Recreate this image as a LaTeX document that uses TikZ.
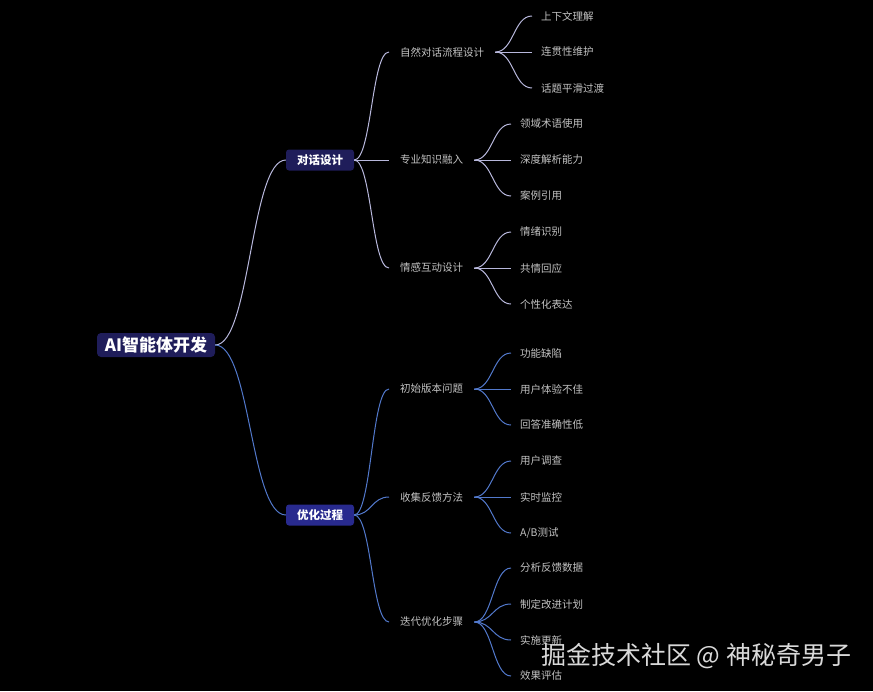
\documentclass[tikz,border=0pt]{standalone}
\usepackage{fontspec}
\setmainfont{Noto Sans CJK SC}
\usetikzlibrary{positioning,calc}
\definecolor{lila}{HTML}{B8B8DC}
\definecolor{azul}{HTML}{5279CC}
\definecolor{texto}{HTML}{C2C2C2}
\definecolor{marino}{HTML}{1F1D5A}
\definecolor{anil}{HTML}{282A8E}

\begin{document}
\begin{tikzpicture}[
    x=1pt, y=-1pt,
    raiz/.style={
      rounded corners=4pt, fill=marino, text=white, inner sep=0pt,
      minimum width=118pt, minimum height=24pt,
      font=\fontsize{17}{19}\selectfont\bfseries
    },
    tema/.style={
      rounded corners=3pt, text=white, inner sep=0pt,
      minimum width=68pt, minimum height=21pt,
      font=\fontsize{11.5}{13}\selectfont\bfseries
    },
    rama/.style={
      anchor=west, text=texto, inner xsep=11pt,
      font=\fontsize{10.5}{12}\selectfont
    },
    hoja/.style={
      anchor=west, text=texto, inner xsep=9pt,
      font=\fontsize{10.5}{12}\selectfont
    },
    curva/.style={
      line width=1pt,
      to path={let \p1=(\tikztostart), \p2=(\tikztotarget) in
        .. controls ({(\x1+\x2)/2},\y1) and ({(\x1+\x2)/2},\y2) .. (\tikztotarget)}
    }
  ]
    \fill[black] (0,0) rectangle (873,691);

    \node[raiz] (ai) at (156,345) {AI智能体开发};
    \node[tema, fill=marino] (dialogo) at (320,160) {对话设计};
    \node[tema, fill=anil] (optim) at (320,515) {优化过程};

    % dialogo
    \node[rama] (natural) at (389,52) {自然对话流程设计};
    \node[rama] (experto) at (389,160) {专业知识融入};
    \node[rama] (emocion) at (389,268) {情感互动设计};

    \node[hoja] (contexto) at (532,16) {上下文理解};
    \node[hoja] (coherencia) at (532,52) {连贯性维护};
    \node[hoja] (transicion) at (532,88) {话题平滑过渡};

    \node[hoja] (terminos) at (511,124) {领域术语使用};
    \node[hoja] (analisis) at (511,160) {深度解析能力};
    \node[hoja] (casos) at (511,196) {案例引用};

    \node[hoja] (reconoce) at (511,232) {情绪识别};
    \node[hoja] (empatia) at (511,268) {共情回应};
    \node[hoja] (personal) at (511,304) {个性化表达};

    % optim
    \node[rama] (inicial) at (389,389) {初始版本问题};
    \node[rama] (feedback) at (389,497) {收集反馈方法};
    \node[rama] (iterar) at (389,622) {迭代优化步骤};

    \node[hoja] (defectos) at (511,353) {功能缺陷};
    \node[hoja] (experiencia) at (511,389) {用户体验不佳};
    \node[hoja] (precision) at (511,425) {回答准确性低};

    \node[hoja] (encuesta) at (511,461) {用户调查};
    \node[hoja] (monitor) at (511,497) {实时监控};
    \node[hoja] (abtest) at (511,533) {A/B测试};

    \node[hoja] (datos) at (511,568) {分析反馈数据};
    \node[hoja] (plan) at (511,604) {制定改进计划};
    \node[hoja] (update) at (511,640) {实施更新};
    \node[hoja] (evalua) at (511,676) {效果评估};

    \begin{scope}[lila]
      \draw[curva] (ai.east) to (dialogo.west);
      \foreach \h in {natural,experto,emocion}
        \draw[curva] (dialogo.east) to (\h.west);
      \foreach \h in {contexto,coherencia,transicion}
        \draw[curva] (natural.east) to (\h.west);
      \foreach \h in {terminos,analisis,casos}
        \draw[curva] (experto.east) to (\h.west);
      \foreach \h in {reconoce,empatia,personal}
        \draw[curva] (emocion.east) to (\h.west);
    \end{scope}

    \begin{scope}[azul]
      \draw[curva] (ai.east) to (optim.west);
      \foreach \h in {inicial,feedback,iterar}
        \draw[curva] (optim.east) to (\h.west);
      \foreach \h in {defectos,experiencia,precision}
        \draw[curva] (inicial.east) to (\h.west);
      \foreach \h in {encuesta,monitor,abtest}
        \draw[curva] (feedback.east) to (\h.west);
      \foreach \h in {datos,plan,update,evalua}
        \draw[curva] (iterar.east) to (\h.west);
    \end{scope}

    \node[anchor=west, text=white!85!black, inner sep=0pt,
      font=\fontsize{25}{28}\selectfont] (marca) at (541,656)
      {掘金技术社区 @ 神秘奇男子};
  \end{tikzpicture}
\end{document}
